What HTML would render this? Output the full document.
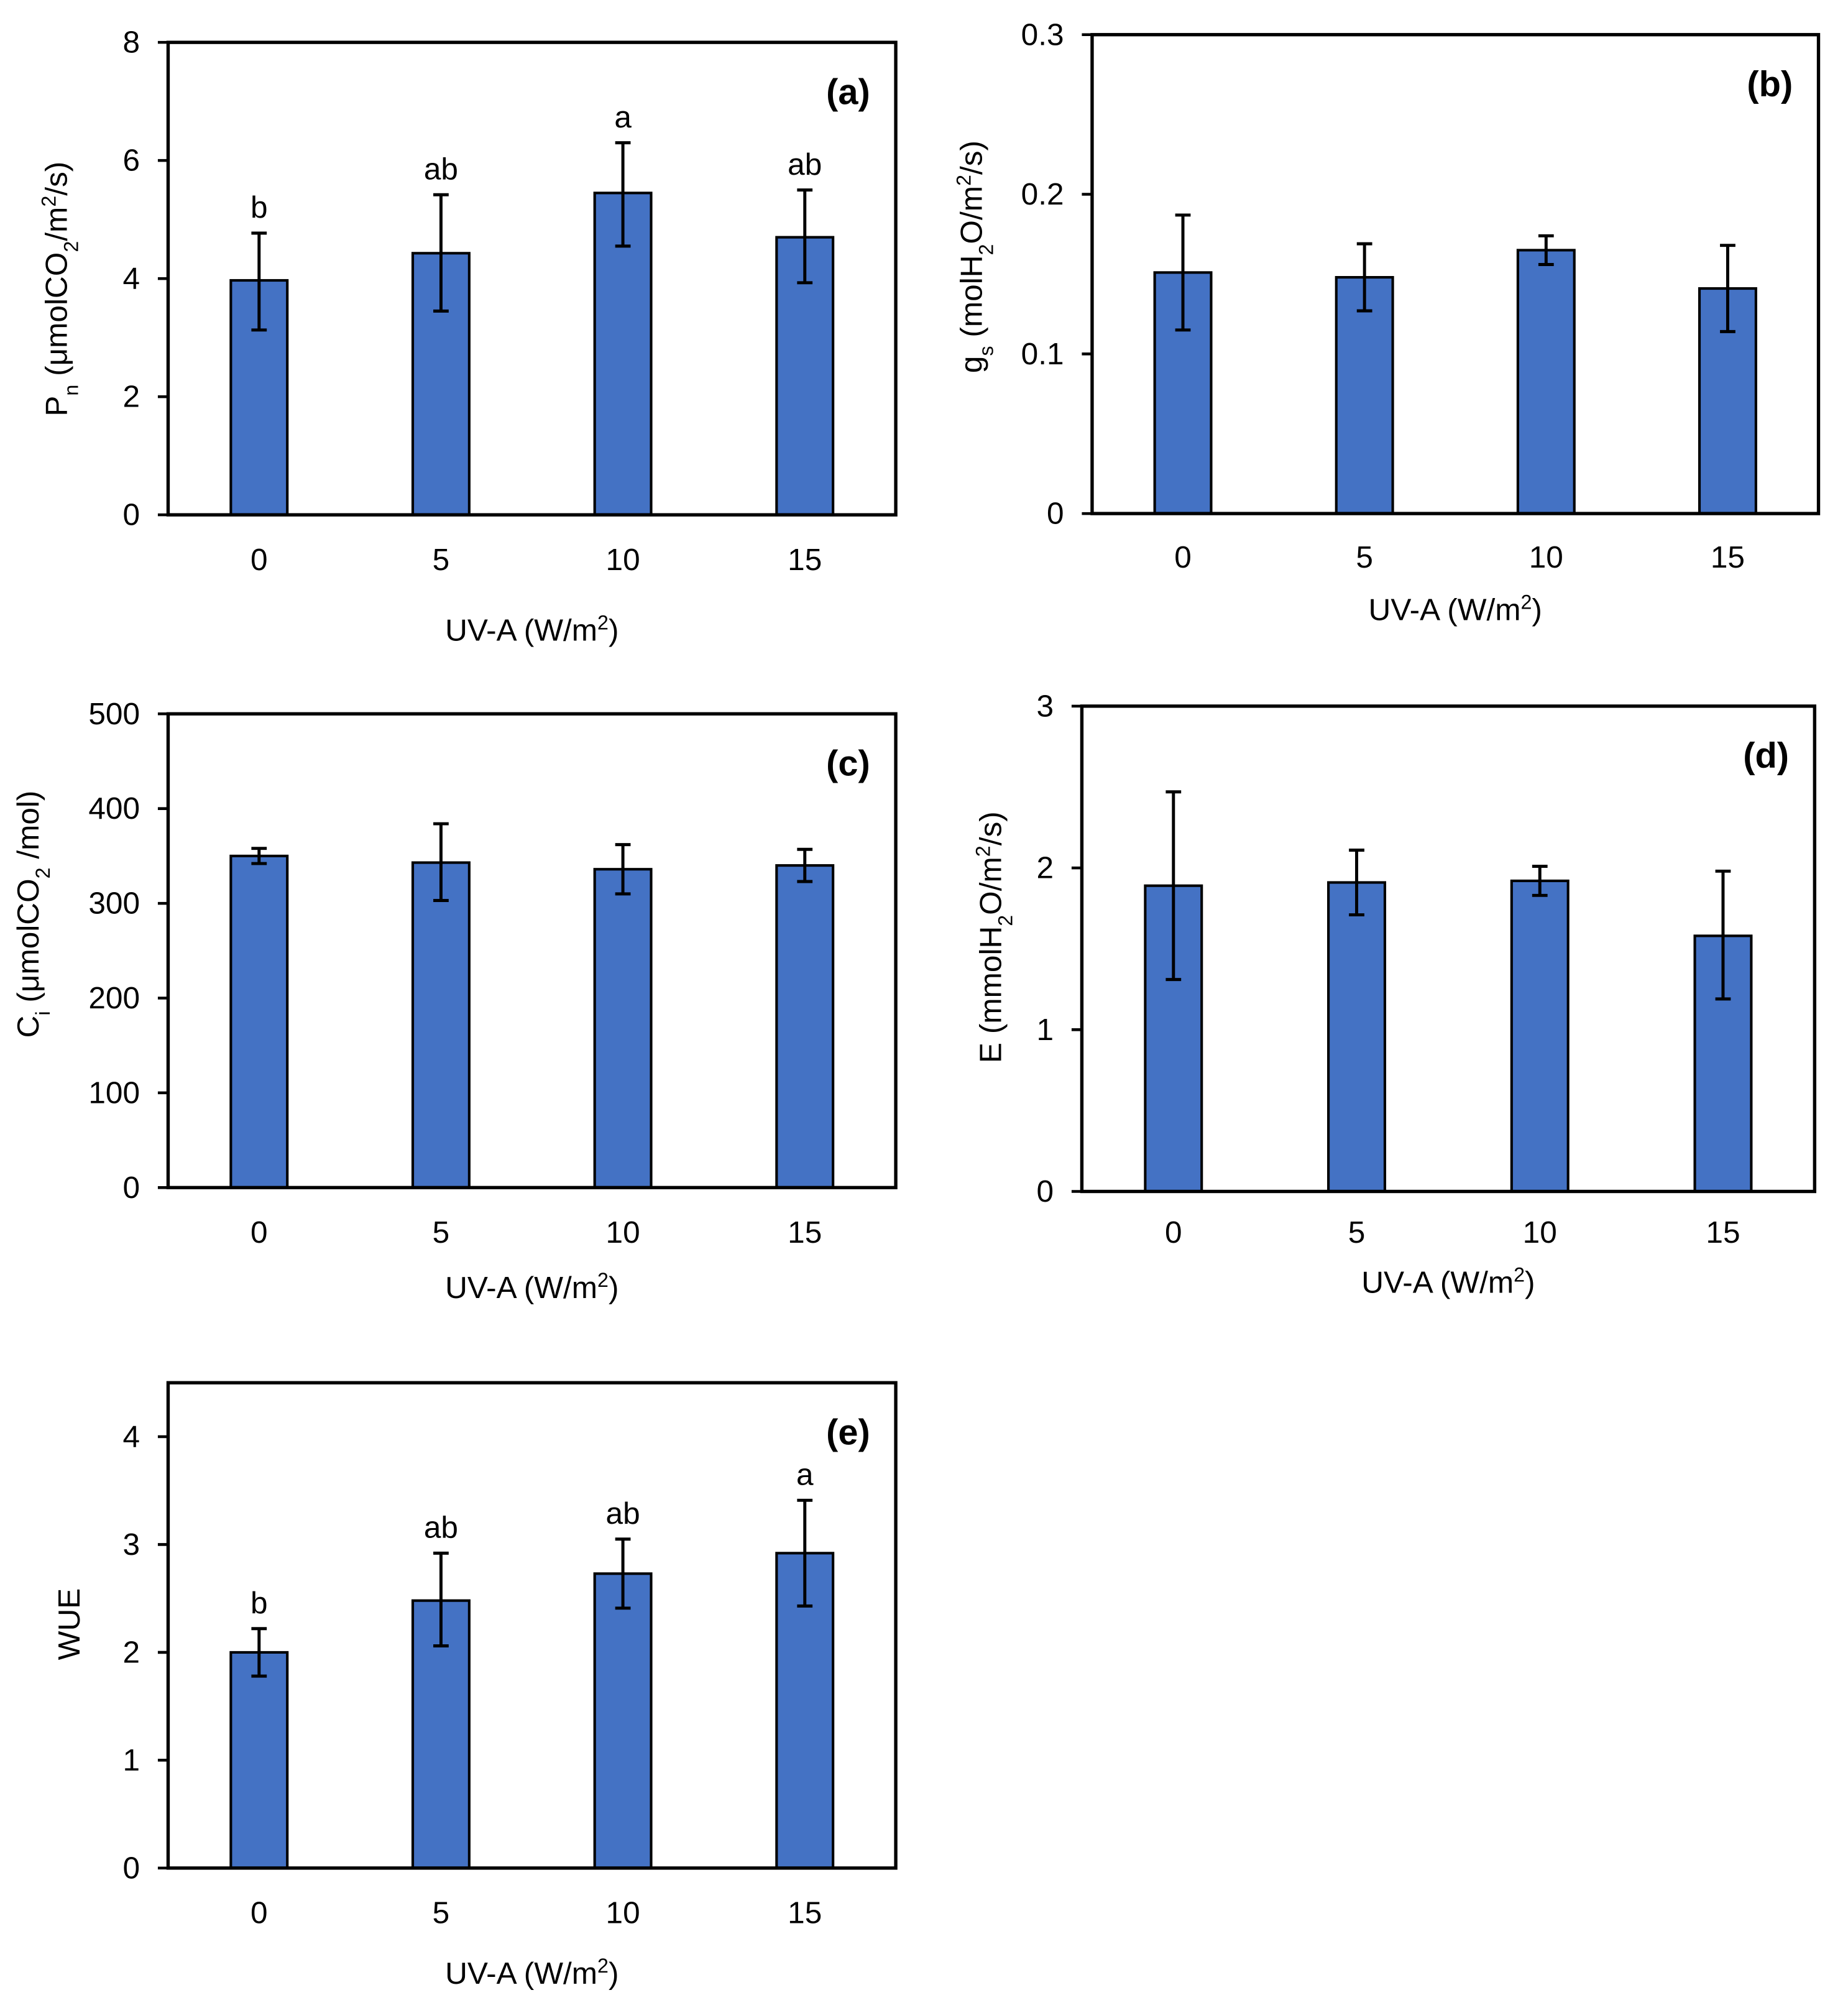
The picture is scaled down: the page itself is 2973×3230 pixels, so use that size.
<!DOCTYPE html>
<html><head><meta charset="utf-8"><style>
html,body{margin:0;padding:0;background:#fff;}
svg{display:block;font-family:"Liberation Sans",Arial,sans-serif;}
</style></head><body>
<svg id="fig" width="2973" height="3230" viewBox="0 0 1440 1564" preserveAspectRatio="none" xmlns="http://www.w3.org/2000/svg"></svg>
<script>
const categories = ["0","5","10","15"];
const pnValues = [3.97, 4.43, 5.45, 4.70];
const pnUpper = [4.77, 5.42, 6.30, 5.50];
const pnLower = [3.13, 3.45, 4.55, 3.93];
const pnLetters = ["b","ab","a","ab"];
const pnTicks = [0,2,4,6,8];
const gsValues = [0.151, 0.148, 0.165, 0.141];
const gsUpper = [0.187, 0.169, 0.174, 0.168];
const gsLower = [0.115, 0.127, 0.156, 0.114];
const gsTicks = [0,0.1,0.2,0.3];
const ciValues = [350, 343, 336, 340];
const ciUpper = [358, 384, 362, 357];
const ciLower = [342, 303, 310, 323];
const ciTicks = [0,100,200,300,400,500];
const eValues = [1.89, 1.91, 1.92, 1.58];
const eUpper = [2.47, 2.11, 2.01, 1.98];
const eLower = [1.31, 1.71, 1.83, 1.19];
const eTicks = [0,1,2,3];
const wueValues = [2.00, 2.48, 2.73, 2.92];
const wueUpper = [2.22, 2.92, 3.05, 3.41];
const wueLower = [1.78, 2.06, 2.41, 2.43];
const wueLetters = ["b","ab","ab","a"];
const wueTicks = [0,1,2,3,4];

const NS="http://www.w3.org/2000/svg";
const svg=document.getElementById('fig');
function mk(tag,attrs,parent){const e=document.createElementNS(NS,tag);for(const k in attrs)e.setAttribute(k,attrs[k]);(parent||svg).appendChild(e);return e;}
function richText(g,x,y,parts,size,rot){
  const t=mk('text',{x:x,y:y,'font-size':size,'text-anchor':'middle',fill:'#000'},g);
  if(rot)t.setAttribute('transform','rotate(-90 '+x+' '+y+')');
  parts.forEach(p=>{const s=mk('tspan',{},t);s.textContent=p[0];
    if(p[1]==='sub'){s.setAttribute('baseline-shift','sub');s.setAttribute('font-size',size*0.65);}
    if(p[1]==='sup'){s.setAttribute('baseline-shift','super');s.setAttribute('font-size',size*0.65);}});
  return t;
}
function panel(cfg){
  const g=mk('g',{});
  
  
  const {x0,x1,y0,y1,min,max}=cfg;
  const yS=v=>y1-(v-min)/(max-min)*(y1-y0);
  const xS=i=>x0+(x1-x0)*(i+0.5)/categories.length;
  const bw=44;
  categories.forEach((c,i)=>{
    const cx=xS(i);
    const b=mk('rect',{x:cx-bw/2,y:yS(cfg.values[i]),width:bw,height:y1-yS(cfg.values[i]),fill:'#4472C4',stroke:'#000','stroke-width':2},g);
    
    
    const eb=mk('path',{d:`M${cx},${yS(cfg.upper[i])}V${yS(cfg.lower[i])}M${cx-6},${yS(cfg.upper[i])}H${cx+6}M${cx-6},${yS(cfg.lower[i])}H${cx+6}`,stroke:'#000','stroke-width':2.4,fill:'none'},g);
    
    
    if(cfg.letters){const lt=mk('text',{x:cx,y:yS(cfg.upper[i])-12,'font-size':24,'text-anchor':'middle'},g);lt.textContent=cfg.letters[i];
      
      }
    const xt=mk('text',{x:cx,y:cfg.xtY,'font-size':24,'text-anchor':'middle'},g);xt.textContent=c;
    
    
  });
  mk('rect',{x:x0,y:y0,width:x1-x0,height:y1-y0,fill:'none',stroke:'#000','stroke-width':2.6},g);
  cfg.ticks.forEach(v=>{
    mk('line',{x1:x0-8,x2:x0,y1:yS(v),y2:yS(v),stroke:'#000','stroke-width':2.2},g);
    const t=mk('text',{x:x0-22,y:yS(v)+8,'font-size':24,'text-anchor':'end'},g);t.textContent=String(v);
    
    
  });
  const pl=mk('text',{x:x1-20,y:y0+48,'font-size':28,'font-weight':'bold','text-anchor':'end'},g);pl.textContent=cfg.label;
  
  
  const xtit=richText(g,(x0+x1)/2,cfg.xtitY,[['UV-A  (W/m'],['2','sup'],[')']],24,false);
  
  
  const ytit=richText(g,cfg.ytX,cfg.ytY,cfg.ytParts,24,true);
  
  
}
panel({name:'panel-a-pn',x0:131,x1:698,y0:33,y1:401,min:0,max:8,values:pnValues,upper:pnUpper,lower:pnLower,letters:pnLetters,ticks:pnTicks,label:'(a)',xtY:444,xtitY:499,ytX:52,ytY:225,ytParts:[['P'],['n','sub'],[' (μmolCO'],['2','sub'],['/m'],['2','sup'],['/s)']]});
panel({name:'panel-b-gs',x0:851,x1:1417,y0:27,y1:400,min:0,max:0.3,values:gsValues,upper:gsUpper,lower:gsLower,ticks:gsTicks,label:'(b)',xtY:442,xtitY:483,ytX:765,ytY:200,ytParts:[['g'],['s','sub'],[' (molH'],['2','sub'],['O/m'],['2','sup'],['/s)']]});
panel({name:'panel-c-ci',x0:131,x1:698,y0:556,y1:925,min:0,max:500,values:ciValues,upper:ciUpper,lower:ciLower,ticks:ciTicks,label:'(c)',xtY:968,xtitY:1011,ytX:30,ytY:712,ytParts:[['C'],['i','sub'],[' (μmolCO'],['2','sub'],[' /mol)']]});
panel({name:'panel-d-e',x0:843,x1:1414,y0:550,y1:928,min:0,max:3,values:eValues,upper:eUpper,lower:eLower,ticks:eTicks,label:'(d)',xtY:968,xtitY:1007,ytX:780,ytY:730,ytParts:[['E (mmolH'],['2','sub'],['O/m'],['2','sup'],['/s)']]});
panel({name:'panel-e-wue',x0:131,x1:698,y0:1077,y1:1455,min:0,max:4.5,values:wueValues,upper:wueUpper,lower:wueLower,letters:wueLetters,ticks:wueTicks,label:'(e)',xtY:1498,xtitY:1545,ytX:62,ytY:1265,ytParts:[['WUE']]});
</script>
</body></html>
